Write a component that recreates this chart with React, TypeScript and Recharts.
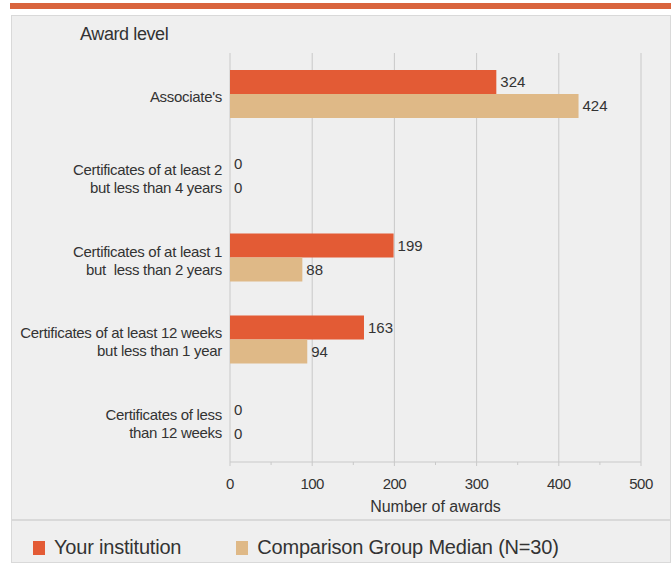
import React from 'react';
import { BarChart, Bar, XAxis, YAxis, CartesianGrid, LabelList } from 'recharts';

const categories = [
  "Associate's",
  'Certificates of at least 2\nbut less than 4 years',
  'Certificates of at least 1\nbut  less than 2 years',
  'Certificates of at least 12 weeks\nbut less than 1 year',
  'Certificates of less\nthan 12 weeks',
];
const yourInstitution = [324, 0, 199, 163, 0];
const comparisonMedian = [424, 0, 88, 94, 0];
const xTicks = [0, 50, 100, 150, 200, 250, 300, 350, 400, 450, 500];
const xLabelledTicks = [0, 100, 200, 300, 400, 500];
const seriesNames = ['Your institution', 'Comparison Group Median (N=30)'];

const data = categories.map((c, i) => ({
  name: c,
  yours: yourInstitution[i],
  median: comparisonMedian[i],
}));

const FONT = "'Liberation Sans', Arial, sans-serif";
const ORANGE = '#e35b35';
const TAN = '#dfb987';
const GRID = '#c9c9c9';
const seriesColors = [ORANGE, TAN];

const YTick = (props: any) => {
  const { x, y, payload } = props;
  const lines = String(payload.value).split('\n');
  const lh = 18;
  const startDy = -((lines.length - 1) * lh) / 2;
  return (
    <text x={x} y={y} textAnchor="end" fill="#333" fontSize={15} fontFamily={FONT} letterSpacing={-0.3}>
      {lines.map((l, i) => (
        <tspan key={i} x={x} dy={i === 0 ? startDy + 8 : lh} style={{ whiteSpace: 'pre' }}>
          {l}
        </tspan>
      ))}
    </text>
  );
};

const XTick = (props: any) => {
  const { x, y, payload } = props;
  const major = xLabelledTicks.includes(payload.value);
  return (
    <g>
      <line x1={x} x2={x} y1={y} y2={y + (major ? 4 : 3)} stroke={GRID} />
      {major && (
        <text x={x} y={y + 27} textAnchor="middle" fill="#333" fontSize={15} fontFamily={FONT} letterSpacing={-0.5}>
          {payload.value}
        </text>
      )}
    </g>
  );
};

export default function App() {
  return (
    <div style={{ position: 'absolute', left: 0, top: 0, width: 671, height: 565, background: '#fff', overflow: 'hidden' }}>
      <div style={{ position: 'absolute', left: 10, top: 3, width: 661, height: 6, background: '#d9643d' }} />
      <div style={{ position: 'absolute', left: 11, top: 15, width: 660, height: 505, background: '#efefef', border: '1px solid #d9d9d9', boxSizing: 'border-box' }} />
      <div style={{ position: 'absolute', left: 11, top: 520, width: 660, height: 43, background: '#efefef', border: '1px solid #d9d9d9', boxSizing: 'border-box' }} />
      <div style={{ position: 'absolute', left: 80, top: 24, fontFamily: FONT, fontSize: 18, color: '#333', letterSpacing: -0.4 }}>Award level</div>
      <div style={{ position: 'absolute', left: 33, top: 536, display: 'flex', alignItems: 'center', fontFamily: FONT, fontSize: 20, color: '#333', letterSpacing: -0.2 }}>
        {seriesNames.map((n, i) => (
          <div key={i} style={{ display: 'flex', alignItems: 'center', marginRight: i === 0 ? 55 : 0 }}>
            <div style={{ width: 12, height: 14, background: seriesColors[i], marginRight: 9 }} />
            <span>{n}</span>
          </div>
        ))}
      </div>
      <div style={{ position: 'absolute', left: 0, top: 0 }}>
        <BarChart
          width={671}
          height={520}
          data={data}
          layout="vertical"
          margin={{ top: 53, right: 30, bottom: 8, left: 0 }}
          barGap={0}
          barSize={24}
        >
          <CartesianGrid horizontal={false} vertical={true} stroke={GRID} verticalValues={xLabelledTicks} />
          <XAxis
            type="number"
            domain={[0, 500]}
            ticks={xTicks}
            interval={0}
            tickLine={false}
            tickSize={0}
            tickMargin={0}
            axisLine={{ stroke: GRID }}
            tick={<XTick />}
            height={50}
            label={{ value: 'Number of awards', position: 'insideBottom', offset: 0, fill: '#333', fontSize: 16, fontFamily: FONT }}
          />
          <XAxis
            xAxisId="top"
            orientation="top"
            type="number"
            domain={[0, 500]}
            tick={false}
            tickLine={false}
            height={0}
            axisLine={{ stroke: '#ddd0dd' }}
          />
          <YAxis
            type="category"
            dataKey="name"
            width={230}
            axisLine={false}
            tickLine={false}
            tick={<YTick />}
            interval={0}
          />
          <Bar dataKey="yours" name={seriesNames[0]} fill={ORANGE} isAnimationActive={false} minPointSize={0.01}>
            <LabelList dataKey="yours" position="right" offset={4} fill="#333" fontSize={15} fontFamily={FONT} />
          </Bar>
          <Bar dataKey="median" name={seriesNames[1]} fill={TAN} isAnimationActive={false} minPointSize={0.01}>
            <LabelList dataKey="median" position="right" offset={4} fill="#333" fontSize={15} fontFamily={FONT} />
          </Bar>
        </BarChart>
      </div>
    </div>
  );
}
